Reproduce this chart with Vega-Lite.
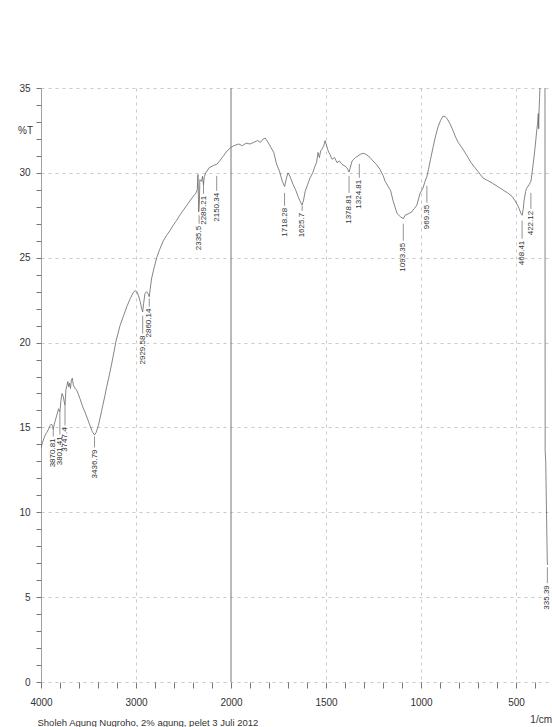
{
  "$schema": "https://vega.github.io/schema/vega-lite/v6.json",
  "width": 511,
  "height": 594,
  "autosize": "none",
  "padding": {"left": 41, "top": 88, "right": 0, "bottom": 45},
  "background": "white",
  "config": {"view": {"stroke": null}, "font": "Liberation Sans"},
  "title": {"text": "1/cm", "orient": "bottom", "anchor": "end", "frame": "group", "fontSize": 10, "fontWeight": "normal", "color": "#333", "offset": -12},
  "datasets": {
    "spectrum": [
      {"wn": 4000, "T": 13.8}, {"wn": 3985, "T": 14.1}, {"wn": 3960, "T": 14.5}, {"wn": 3940, "T": 14.7}, {"wn": 3920, "T": 14.9},
      {"wn": 3905, "T": 15.1}, {"wn": 3890, "T": 15.2}, {"wn": 3880, "T": 15.1}, {"wn": 3871, "T": 14.9}, {"wn": 3860, "T": 15.2},
      {"wn": 3850, "T": 15.4}, {"wn": 3830, "T": 15.8}, {"wn": 3815, "T": 16.1}, {"wn": 3801, "T": 15.9}, {"wn": 3790, "T": 16.6},
      {"wn": 3778, "T": 17.0}, {"wn": 3765, "T": 16.8}, {"wn": 3755, "T": 16.5}, {"wn": 3747, "T": 16.3}, {"wn": 3738, "T": 17.2},
      {"wn": 3725, "T": 17.5}, {"wn": 3718, "T": 17.7}, {"wn": 3708, "T": 17.4}, {"wn": 3700, "T": 17.6}, {"wn": 3690, "T": 17.3},
      {"wn": 3680, "T": 17.8}, {"wn": 3670, "T": 17.9}, {"wn": 3660, "T": 17.5}, {"wn": 3650, "T": 17.4}, {"wn": 3640, "T": 17.3},
      {"wn": 3625, "T": 17.2}, {"wn": 3610, "T": 17.0}, {"wn": 3590, "T": 16.7}, {"wn": 3560, "T": 16.2}, {"wn": 3537, "T": 15.9},
      {"wn": 3510, "T": 15.5}, {"wn": 3484, "T": 15.1}, {"wn": 3460, "T": 14.75}, {"wn": 3437, "T": 14.55}, {"wn": 3420, "T": 14.7},
      {"wn": 3397, "T": 15.1}, {"wn": 3380, "T": 15.5}, {"wn": 3361, "T": 16.0}, {"wn": 3330, "T": 16.8}, {"wn": 3308, "T": 17.4},
      {"wn": 3280, "T": 18.1}, {"wn": 3256, "T": 18.75}, {"wn": 3230, "T": 19.5}, {"wn": 3210, "T": 20.1}, {"wn": 3168, "T": 21.0},
      {"wn": 3130, "T": 21.6}, {"wn": 3098, "T": 22.1}, {"wn": 3060, "T": 22.6}, {"wn": 3028, "T": 22.96}, {"wn": 3010, "T": 23.05},
      {"wn": 2990, "T": 23.0}, {"wn": 2976, "T": 22.8}, {"wn": 2955, "T": 22.4}, {"wn": 2940, "T": 22.0}, {"wn": 2930, "T": 21.8},
      {"wn": 2920, "T": 22.3}, {"wn": 2905, "T": 22.9}, {"wn": 2888, "T": 23.0}, {"wn": 2875, "T": 22.9}, {"wn": 2860, "T": 22.7},
      {"wn": 2850, "T": 23.2}, {"wn": 2835, "T": 23.8}, {"wn": 2810, "T": 24.4}, {"wn": 2782, "T": 25.0}, {"wn": 2750, "T": 25.5},
      {"wn": 2712, "T": 26.0}, {"wn": 2680, "T": 26.3}, {"wn": 2642, "T": 26.6}, {"wn": 2610, "T": 26.9}, {"wn": 2572, "T": 27.2},
      {"wn": 2540, "T": 27.5}, {"wn": 2502, "T": 27.8}, {"wn": 2470, "T": 28.05}, {"wn": 2432, "T": 28.35}, {"wn": 2400, "T": 28.6},
      {"wn": 2370, "T": 28.8}, {"wn": 2355, "T": 29.0}, {"wn": 2348, "T": 29.9}, {"wn": 2340, "T": 27.7}, {"wn": 2333, "T": 28.2},
      {"wn": 2328, "T": 29.6}, {"wn": 2310, "T": 29.5}, {"wn": 2300, "T": 29.8}, {"wn": 2290, "T": 29.3}, {"wn": 2280, "T": 29.8},
      {"wn": 2265, "T": 30.0}, {"wn": 2230, "T": 30.3}, {"wn": 2180, "T": 30.45}, {"wn": 2150, "T": 30.5}, {"wn": 2120, "T": 30.7},
      {"wn": 2080, "T": 31.0}, {"wn": 2040, "T": 31.3}, {"wn": 2000, "T": 31.5}, {"wn": 1985, "T": 31.6}, {"wn": 1960, "T": 31.7},
      {"wn": 1940, "T": 31.6}, {"wn": 1920, "T": 31.75}, {"wn": 1900, "T": 31.7}, {"wn": 1880, "T": 31.8}, {"wn": 1860, "T": 31.9},
      {"wn": 1845, "T": 31.8}, {"wn": 1830, "T": 32.0}, {"wn": 1820, "T": 32.05}, {"wn": 1805, "T": 31.8}, {"wn": 1790, "T": 31.5},
      {"wn": 1775, "T": 31.2}, {"wn": 1760, "T": 30.5}, {"wn": 1745, "T": 30.1}, {"wn": 1730, "T": 29.5}, {"wn": 1718, "T": 29.2},
      {"wn": 1708, "T": 29.7}, {"wn": 1700, "T": 30.0}, {"wn": 1690, "T": 29.8}, {"wn": 1673, "T": 29.3}, {"wn": 1660, "T": 29.0},
      {"wn": 1647, "T": 28.6}, {"wn": 1635, "T": 28.3}, {"wn": 1626, "T": 28.1}, {"wn": 1618, "T": 28.4}, {"wn": 1610, "T": 28.9},
      {"wn": 1597, "T": 29.3}, {"wn": 1584, "T": 29.7}, {"wn": 1570, "T": 30.0}, {"wn": 1558, "T": 30.4}, {"wn": 1550, "T": 30.6},
      {"wn": 1542, "T": 31.2}, {"wn": 1535, "T": 30.9}, {"wn": 1528, "T": 31.3}, {"wn": 1521, "T": 31.4}, {"wn": 1512, "T": 31.6},
      {"wn": 1505, "T": 31.9}, {"wn": 1497, "T": 31.6}, {"wn": 1489, "T": 31.3}, {"wn": 1480, "T": 31.1}, {"wn": 1468, "T": 30.8},
      {"wn": 1455, "T": 30.9}, {"wn": 1442, "T": 30.6}, {"wn": 1430, "T": 30.7}, {"wn": 1416, "T": 30.5}, {"wn": 1400, "T": 30.4},
      {"wn": 1390, "T": 30.3}, {"wn": 1379, "T": 30.05}, {"wn": 1370, "T": 30.4}, {"wn": 1363, "T": 30.7}, {"wn": 1345, "T": 30.9},
      {"wn": 1332, "T": 31.0}, {"wn": 1318, "T": 31.1}, {"wn": 1305, "T": 31.15}, {"wn": 1290, "T": 31.1}, {"wn": 1268, "T": 30.9},
      {"wn": 1253, "T": 30.7}, {"wn": 1235, "T": 30.5}, {"wn": 1216, "T": 30.2}, {"wn": 1200, "T": 29.85}, {"wn": 1189, "T": 29.5},
      {"wn": 1168, "T": 29.1}, {"wn": 1160, "T": 28.95}, {"wn": 1147, "T": 28.35}, {"wn": 1126, "T": 27.6}, {"wn": 1107, "T": 27.4},
      {"wn": 1093, "T": 27.3}, {"wn": 1084, "T": 27.5}, {"wn": 1065, "T": 27.6}, {"wn": 1049, "T": 27.7}, {"wn": 1035, "T": 27.9},
      {"wn": 1022, "T": 28.1}, {"wn": 1005, "T": 28.8}, {"wn": 990, "T": 29.1}, {"wn": 979, "T": 29.5}, {"wn": 969, "T": 29.8},
      {"wn": 963, "T": 30.1}, {"wn": 950, "T": 30.8}, {"wn": 937, "T": 31.5}, {"wn": 925, "T": 32.1}, {"wn": 911, "T": 32.7},
      {"wn": 897, "T": 33.1}, {"wn": 884, "T": 33.35}, {"wn": 873, "T": 33.3}, {"wn": 863, "T": 33.2}, {"wn": 848, "T": 32.9},
      {"wn": 832, "T": 32.5}, {"wn": 818, "T": 32.1}, {"wn": 805, "T": 31.8}, {"wn": 780, "T": 31.4}, {"wn": 758, "T": 31.0},
      {"wn": 737, "T": 30.6}, {"wn": 716, "T": 30.3}, {"wn": 695, "T": 30.0}, {"wn": 674, "T": 29.7}, {"wn": 650, "T": 29.55},
      {"wn": 626, "T": 29.4}, {"wn": 605, "T": 29.25}, {"wn": 584, "T": 29.1}, {"wn": 563, "T": 28.95}, {"wn": 542, "T": 28.8},
      {"wn": 520, "T": 28.6}, {"wn": 505, "T": 28.35}, {"wn": 492, "T": 28.1}, {"wn": 484, "T": 27.9}, {"wn": 474, "T": 27.6},
      {"wn": 468, "T": 27.5}, {"wn": 462, "T": 27.9}, {"wn": 458, "T": 28.35}, {"wn": 450, "T": 28.9}, {"wn": 444, "T": 29.1},
      {"wn": 432, "T": 29.3}, {"wn": 422, "T": 29.5}, {"wn": 417, "T": 29.9}, {"wn": 408, "T": 30.7}, {"wn": 400, "T": 31.5},
      {"wn": 393, "T": 32.3}, {"wn": 387, "T": 32.9}, {"wn": 383, "T": 33.5}, {"wn": 381, "T": 32.6}, {"wn": 379, "T": 33.7},
      {"wn": 376, "T": 34.5}, {"wn": 373, "T": 35.6}, {"wn": 368, "T": 38}, {"wn": 360, "T": 40}, {"wn": 352, "T": 39},
      {"wn": 348, "T": 36}, {"wn": 347, "T": 13.6}, {"wn": 344, "T": 13.0}, {"wn": 336, "T": 7.2}, {"wn": 335, "T": 6.9}
    ],
    "peaks": [
      {"wn": 3870.81, "label": "3870.81", "top": 14.94, "bottom": 14.47},
      {"wn": 3801.41, "label": "3801.41", "top": 15.88, "bottom": 14.59},
      {"wn": 3747.4, "label": "3747.4", "top": 16.29, "bottom": 15.12},
      {"wn": 3436.79, "label": "3436.79", "top": 14.47, "bottom": 13.82},
      {"wn": 2929.58, "label": "2929.58", "top": 21.59, "bottom": 20.53},
      {"wn": 2860.14, "label": "2860.14", "top": 22.59, "bottom": 22.12},
      {"wn": 2335.5, "label": "2335.5", "top": 27.5, "bottom": 27.0},
      {"wn": 2289.21, "label": "2289.21", "top": 29.53, "bottom": 28.76},
      {"wn": 2150.34, "label": "2150.34", "top": 29.82, "bottom": 28.94},
      {"wn": 1718.28, "label": "1718.28", "top": 28.82, "bottom": 28.06},
      {"wn": 1625.7, "label": "1625.7", "top": 28.06, "bottom": 27.76},
      {"wn": 1378.81, "label": "1378.81", "top": 29.82, "bottom": 28.82},
      {"wn": 1324.81, "label": "1324.81", "top": 30.53, "bottom": 29.71},
      {"wn": 1093.35, "label": "1093.35", "top": 27.0, "bottom": 26.0},
      {"wn": 969.35, "label": "969.35", "top": 29.24, "bottom": 28.24},
      {"wn": 468.41, "label": "468.41", "top": 27.18, "bottom": 26.12},
      {"wn": 422.12, "label": "422.12", "top": 28.82, "bottom": 27.88},
      {"wn": 335.39, "label": "335.39", "top": 6.76, "bottom": 5.82}
    ],
    "breakline": [{"wn": 2000}]
  },
  "layer": [
    {
      "data": {"name": "spectrum"},
      "mark": {"type": "line", "clip": true, "stroke": "#666", "strokeWidth": 0.8},
      "encoding": {
        "x": {
          "field": "wn", "type": "quantitative",
          "scale": {"domain": [4000, 2000, 311], "range": [0, 190, 511], "nice": false, "zero": false},
          "axis": {
            "values": [4000, 3800, 3600, 3400, 3200, 3000, 2800, 2600, 2400, 2200, 2000, 1900, 1800, 1700, 1600, 1500, 1400, 1300, 1200, 1100, 1000, 900, 800, 700, 600, 500, 400],
            "tickCount": 200,
            "format": "d",
            "labelExpr": "indexof([4000, 3000, 2000, 1500, 1000, 500], datum.value) >= 0 ? datum.label : ''",
            "labelFlush": false, "labelOverlap": false, "labelBound": false,
            "domain": false,
            "ticks": true, "tickColor": "#777", "tickSize": 6, "tickWidth": 1,
            "labelPadding": 9, "labelFontSize": 10, "labelColor": "#333",
            "grid": true, "gridDash": [3, 4], "gridColor": "#bbb", "gridWidth": 0.8,
            "gridOpacity": {"condition": {"test": "datum.value == 3000 || datum.value == 1500 || datum.value == 1000 || datum.value == 500", "value": 1}, "value": 0},
            "title": "Sholeh Agung Nugroho, 2% agung, pelet 3 Juli 2012",
            "titleFontSize": 9.5, "titleFontWeight": "normal", "titleColor": "#333",
            "titleAlign": "left", "titleBaseline": "middle", "titleX": -4, "titleY": 40
          }
        },
        "y": {
          "field": "T", "type": "quantitative",
          "scale": {"domain": [0, 35], "nice": false, "zero": false},
          "axis": {
            "values": [0, 1, 2, 3, 4, 5, 6, 7, 8, 9, 10, 11, 12, 13, 14, 15, 16, 17, 18, 19, 20, 21, 22, 23, 24, 25, 26, 27, 28, 29, 30, 31, 32, 33, 34, 35],
            "tickCount": 200,
            "format": "d",
            "labelExpr": "datum.value % 5 == 0 ? datum.label : ''",
            "labelOverlap": false, "labelFlush": false, "labelBound": false,
            "domainColor": "#888", "domainWidth": 0.8,
            "tickColor": "#777", "tickSize": 5, "tickWidth": 1,
            "labelPadding": 6, "labelFontSize": 10, "labelColor": "#333",
            "grid": true, "gridDash": [3, 4], "gridColor": "#bbb", "gridWidth": 0.8,
            "gridOpacity": {"condition": {"test": "datum.value % 5 == 0", "value": 1}, "value": 0},
            "title": "%T", "titleAngle": 0, "titleX": -16, "titleY": 42,
            "titleAlign": "center", "titleBaseline": "middle",
            "titleFontSize": 10, "titleFontWeight": "normal", "titleColor": "#333"
          }
        }
      }
    },
    {
      "data": {"name": "breakline"},
      "mark": {"type": "rule", "stroke": "#777", "strokeWidth": 1},
      "encoding": {"x": {"field": "wn", "type": "quantitative"}}
    },
    {
      "data": {"name": "peaks"},
      "mark": {"type": "rule", "stroke": "#777", "strokeWidth": 0.8},
      "encoding": {
        "x": {"field": "wn", "type": "quantitative"},
        "y": {"field": "top", "type": "quantitative"},
        "y2": {"field": "bottom"}
      }
    },
    {
      "data": {"name": "peaks"},
      "mark": {"type": "text", "angle": 270, "align": "right", "baseline": "middle", "fontSize": 8, "dx": -2, "color": "#333"},
      "encoding": {
        "x": {"field": "wn", "type": "quantitative"},
        "y": {"field": "bottom", "type": "quantitative"},
        "text": {"field": "label"}
      }
    }
  ]
}
